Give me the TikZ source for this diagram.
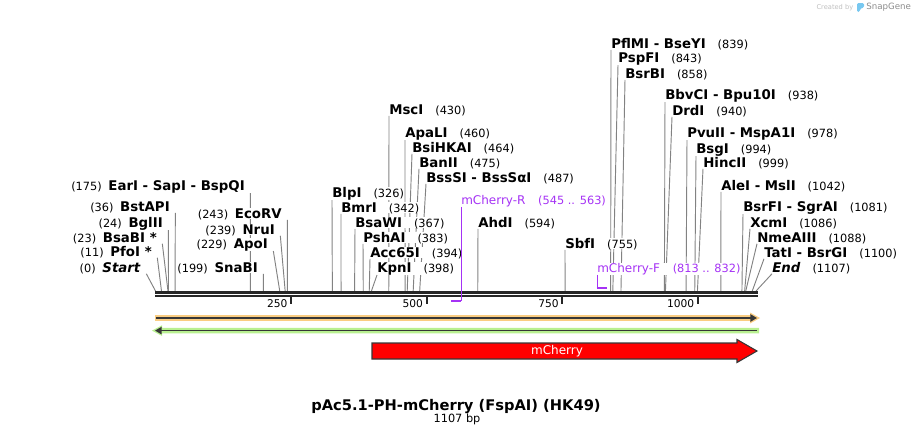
\documentclass[tikz,border=0pt]{standalone}
\usepackage{fontspec}
\setmainfont{DejaVu Sans}
\usetikzlibrary{arrows.meta, backgrounds}

\definecolor{cutgray}{RGB}{130,130,130}
\definecolor{primerpurple}{RGB}{165,50,245}
\definecolor{featorange}{RGB}{250,205,130}
\definecolor{featgreen}{RGB}{185,240,145}
\definecolor{darkline}{RGB}{55,55,55}
\definecolor{snapblue}{RGB}{120,200,240}

\newcommand{\numf}{\fontsize{8.5}{10}\selectfont}
\newcommand{\rsite}[2]{\textbf{#1}\hspace{9pt}{\numf(#2)}}
\newcommand{\lsite}[2]{{\numf(#1)}\hspace{5pt}\textbf{#2}}

\tikzset{
  lbl/.style={inner sep=0pt, fill=white, font=\fontsize{10}{12}\selectfont},
  rlbl/.style={lbl, anchor=base west},
  llbl/.style={lbl, anchor=base east},
  plbl/.style={rlbl, text=primerpurple, font=\fontsize{9}{11}\selectfont},
  cut/.style={cutgray, line width=0.7pt},
  primer/.style={primerpurple, line width=0.75pt},
  primerbar/.style={primerpurple, line width=1.5pt},
  ticklbl/.style={inner sep=0pt, anchor=east, font=\fontsize{8}{10}\selectfont},
}

\begin{document}
\begin{tikzpicture}[x=0.75pt, y=-0.75pt]
  \useasboundingbox (0,0) rectangle (914,436);
  % cut sites on the backbone
  \foreach \p in {0,11,23,24,36,175,199,229,239,243,326,342,367,383,394,398,430,460,464,475,487,594,755,839,843,858,938,940,978,994,999,1042,1081,1086,1088,1100,1107}
    \coordinate (s\p) at ({155.5+0.5425*\p},291);
  \coordinate (r545) at ({155.5+0.5425*545},300.5);
  \coordinate (f813) at ({155.5+0.5425*813},287.5);
  \coordinate (f832) at ({155.5+0.5425*832},287.5);

  % enzymes left of their sites
  \node[llbl] (L175) at (245,190) {\lsite{175}{EarI - SapI - BspQI}};
  \node[llbl] (L36) at (170,211) {\lsite{36}{BstAPI}};
  \node[llbl] (L24) at (163,227) {\lsite{24}{BglII}};
  \node[llbl] (L23) at (157,242) {\lsite{23}{BsaBI *}};
  \node[llbl] (L11) at (152,256) {\lsite{11}{PfoI *}};
  \node[llbl] (L0) at (141,272) {\lsite{0}{\itshape Start}};
  \node[llbl] (L243) at (282,218) {\lsite{243}{EcoRV}};
  \node[llbl] (L239) at (275,234) {\lsite{239}{NruI}};
  \node[llbl] (L229) at (268,248) {\lsite{229}{ApoI}};
  \node[llbl] (L199) at (258,272) {\lsite{199}{SnaBI}};
  % enzymes right of their sites
  \node[rlbl] (L430) at (389,114) {\rsite{MscI}{430}};
  \node[rlbl] (L460) at (405,137) {\rsite{ApaLI}{460}};
  \node[rlbl] (L464) at (412,152) {\rsite{BsiHKAI}{464}};
  \node[rlbl] (L475) at (419,167) {\rsite{BanII}{475}};
  \node[rlbl] (L487) at (426,182) {\rsite{BssSI - BssSαI}{487}};
  \node[rlbl] (L326) at (332,197) {\rsite{BlpI}{326}};
  \node[rlbl] (L342) at (341,212) {\rsite{BmrI}{342}};
  \node[rlbl] (L367) at (355,227) {\rsite{BsaWI}{367}};
  \node[rlbl] (L383) at (363,242) {\rsite{PshAI}{383}};
  \node[rlbl] (L394) at (370,257) {\rsite{Acc65I}{394}};
  \node[rlbl] (L398) at (377,272) {\rsite{KpnI}{398}};
  \node[rlbl] (L594) at (478,227) {\rsite{AhdI}{594}};
  \node[rlbl] (L755) at (565,248) {\rsite{SbfI}{755}};
  \node[rlbl] (L839) at (611,48) {\rsite{PflMI - BseYI}{839}};
  \node[rlbl] (L843) at (618,62) {\rsite{PspFI}{843}};
  \node[rlbl] (L858) at (625,78) {\rsite{BsrBI}{858}};
  \node[rlbl] (L938) at (665,99) {\rsite{BbvCI - Bpu10I}{938}};
  \node[rlbl] (L940) at (672,115) {\rsite{DrdI}{940}};
  \node[rlbl] (L978) at (687,137) {\rsite{PvuII - MspA1I}{978}};
  \node[rlbl] (L994) at (696,153) {\rsite{BsgI}{994}};
  \node[rlbl] (L999) at (703,167) {\rsite{HincII}{999}};
  \node[rlbl] (L1042) at (721,190) {\rsite{AleI - MslI}{1042}};
  \node[rlbl] (L1081) at (743,211) {\rsite{BsrFI - SgrAI}{1081}};
  \node[rlbl] (L1086) at (750,227) {\rsite{XcmI}{1086}};
  \node[rlbl] (L1088) at (757,242) {\rsite{NmeAIII}{1088}};
  \node[rlbl] (L1100) at (764,257) {\rsite{TatI - BsrGI}{1100}};
  \node[rlbl] (L1107) at (772,272) {\rsite{\itshape End}{1107}};
  % primers
  \node[plbl] (mR) at (461,204) {mCherry-R\hspace{9.5pt}{\numf(545 .. 563)}};
  \node[plbl] (mF) at (597,272) {mCherry-F\hspace{9.5pt}{\numf(813 .. 832)}};

  \begin{pgfonlayer}{background}
    \foreach \n in {175,36,24,23,11,0,243,239,229,199}
      \draw[cut] ([xshift=4pt]L\n.south east) -- (s\n);
    \foreach \n in {430,460,464,475,487,326,342,367,383,394,398,594,755,839,843,858,938,940,978,994,999,1042,1081,1086,1088,1100,1107}
      \draw[cut] (L\n.south west) -- (s\n);
  \end{pgfonlayer}

  % backbone
  \draw[black!85, line width=2pt] (155,292.3) -- (757.5,292.3);
  \draw[black!85, line width=1.7pt] (155,296.2) -- (757.5,296.2);
  \foreach \t in {250,500,750,1000}{
    \draw[black!85, line width=1.5pt] ({155.5+0.5425*\t},296) -- ++(0,8.3);
    \node[ticklbl] (t\t) at ({155.5+0.5425*\t-3.5},304) {\t};
  }

  \draw[primer] (mR.south west) -- (mR.south west |- r545);
  \draw[primerbar] (r545) -- (mR.south west |- r545);
  \draw[primer] (mF.south west) -- (mF.south west |- f813);
  \draw[primerbar] (f813) -- (f832);

  % features
  \fill[featorange] (155,315.2) -- (750,315.2) -- (750,312.5) -- (760,318) -- (750,323.5) -- (750,320.8) -- (155,320.8) -- cycle;
  \draw[darkline, line width=1.1pt, -{Triangle[length=5pt,width=5.5pt]}] (156,318) -- (757,318);
  \fill[featgreen] (759,327.8) -- (162,327.8) -- (162,325.3) -- (152,330.6) -- (162,336) -- (162,333.4) -- (759,333.4) -- cycle;
  \draw[darkline, line width=1.1pt, -{Triangle[length=5pt,width=5.5pt]}] (757,330.6) -- (155,330.6);
  \draw[darkline, fill=red, line width=0.8pt] (372,343) -- (737,343) -- (737,339.5) -- (757,351) -- (737,362.5) -- (737,359) -- (372,359) -- cycle;
  \node[text=white, font=\fontsize{9}{11}\selectfont] (mCherry) at (557,351) {mCherry};

  % title
  \node[font=\bfseries\fontsize{11}{13}\selectfont] (title) at (456,406.5) {pAc5.1-PH-mCherry (FspAI) (HK49)};
  \node[font=\fontsize{8.5}{10}\selectfont] (size) at (457,419) {1107 bp};

  % credit
  \node[inner sep=0pt, anchor=east, text=black!25, font=\fontsize{5}{6}\selectfont] (credit) at (853.5,7.5) {Created by};
  \fill[snapblue, rounded corners=1pt] (857,3) -- (864,3) -- (864,7.5) -- (859.8,9) -- (859.8,12) -- (857,12) -- cycle;
  \node[inner sep=0pt, anchor=west, text=black!45, font=\fontsize{6.5}{8}\selectfont] (snapgene) at (866,7.5) {SnapGene};
\end{tikzpicture}
\end{document}
